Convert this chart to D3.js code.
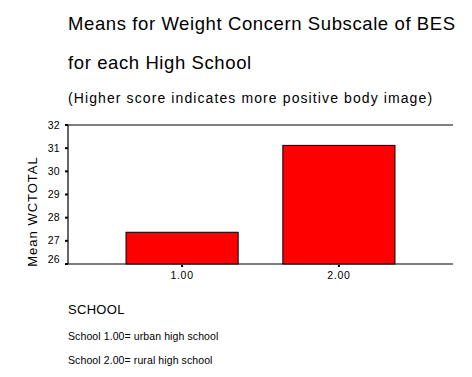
<!DOCTYPE html>
<html>
<head>
<meta charset="utf-8">
<script src="https://cdn.jsdelivr.net/npm/d3@7"></script>
<style>
  body { margin: 0; background: #fff; }
  text { font-family: "Liberation Sans", Arial, sans-serif; fill: #000; }
</style>
</head>
<body>
<svg id="chart" width="472" height="377"></svg>
<script>
// data
const schools = ['1.00', '2.00'];
const means = [27.37, 31.12];
const yTicks = [26, 27, 28, 29, 30, 31, 32];
const titleLines = ['Means for Weight Concern Subscale of BES', 'for each High School'];
const subTitle = '(Higher score indicates more positive body image)';
const notes = ['School 1.00= urban high school', 'School 2.00= rural high school'];

const svg = d3.select('#chart');
const plotL = 68, plotR = 453, plotT = 125, plotB = 264;

const x = d3.scaleBand()
  .domain(schools)
  .range([plotL, plotR])
  .paddingInner(0.285)
  .paddingOuter(0.37);

const y = d3.scaleLinear()
  .domain([26, 32])
  .range([plotB, plotT]);

// titles
svg.selectAll('text.title')
  .data(titleLines)
  .enter()
  .append('text')
  .attr('class', 'title')
  .attr('x', plotL)
  .attr('y', (d, i) => 30 + i * 38.5)
  .style('font-size', '18.5px')
  .style('letter-spacing', '0.6px')
  .text(d => d);

svg.append('text')
  .attr('x', plotL)
  .attr('y', 102.5)
  .style('font-size', '14px')
  .style('letter-spacing', '1.1px')
  .text(subTitle);

// bars
svg.selectAll('rect.bar')
  .data(means)
  .enter()
  .append('rect')
  .attr('class', 'bar')
  .attr('x', (d, i) => x(schools[i]))
  .attr('y', d => y(d))
  .attr('width', x.bandwidth())
  .attr('height', d => y(26) - y(d))
  .attr('fill', '#ff0000')
  .attr('stroke', '#000')
  .attr('stroke-width', 1);

// frame: left, top and bottom lines
const frame = svg.append('g').attr('stroke', '#000').attr('stroke-width', 1.2);
frame.append('line').attr('x1', plotL).attr('x2', plotL).attr('y1', y(32)).attr('y2', y(26));
frame.append('line').attr('x1', plotL).attr('x2', plotR).attr('y1', y(32)).attr('y2', y(32));
frame.append('line').attr('x1', plotL).attr('x2', plotR).attr('y1', y(26)).attr('y2', y(26));

// y ticks
const yAxis = svg.append('g');
yAxis.selectAll('rect')
  .data(yTicks)
  .enter()
  .append('rect')
  .attr('x', plotL - 3)
  .attr('y', d => y(d) - 1)
  .attr('width', 3)
  .attr('height', 2)
  .attr('fill', '#000');
yAxis.selectAll('text')
  .data(yTicks)
  .enter()
  .append('text')
  .attr('x', plotL - 8)
  .attr('y', d => d === 26 ? y(d) - 1.5 : y(d) + 3.5)
  .attr('text-anchor', 'end')
  .style('font-size', '10.5px')
  .style('letter-spacing', '0.3px')
  .text(d => d);

// x ticks
const xAxis = svg.append('g');
xAxis.selectAll('rect')
  .data(schools)
  .enter()
  .append('rect')
  .attr('x', d => x(d) + x.bandwidth() / 2 - 1)
  .attr('y', plotB + 1)
  .attr('width', 2)
  .attr('height', 2)
  .attr('fill', '#000');
xAxis.selectAll('text')
  .data(schools)
  .enter()
  .append('text')
  .attr('x', d => x(d) + x.bandwidth() / 2)
  .attr('y', 279)
  .attr('text-anchor', 'middle')
  .style('font-size', '10.5px')
  .style('letter-spacing', '0.7px')
  .text(d => d);

// y axis title
svg.append('text')
  .attr('transform', 'translate(37,211.5) rotate(-90)')
  .attr('text-anchor', 'middle')
  .style('font-size', '13px')
  .style('letter-spacing', '1px')
  .text('Mean WCTOTAL');

// x axis title and notes
svg.append('text')
  .attr('x', plotL)
  .attr('y', 313.5)
  .style('font-size', '13px')
  .style('letter-spacing', '0.3px')
  .text('SCHOOL');

svg.selectAll('text.note')
  .data(notes)
  .enter()
  .append('text')
  .attr('class', 'note')
  .attr('x', plotL)
  .attr('y', (d, i) => 339.5 + i * 24)
  .style('font-size', '10.5px')
  .style('letter-spacing', '0.1px')
  .text(d => d);
</script>
</body>
</html>
